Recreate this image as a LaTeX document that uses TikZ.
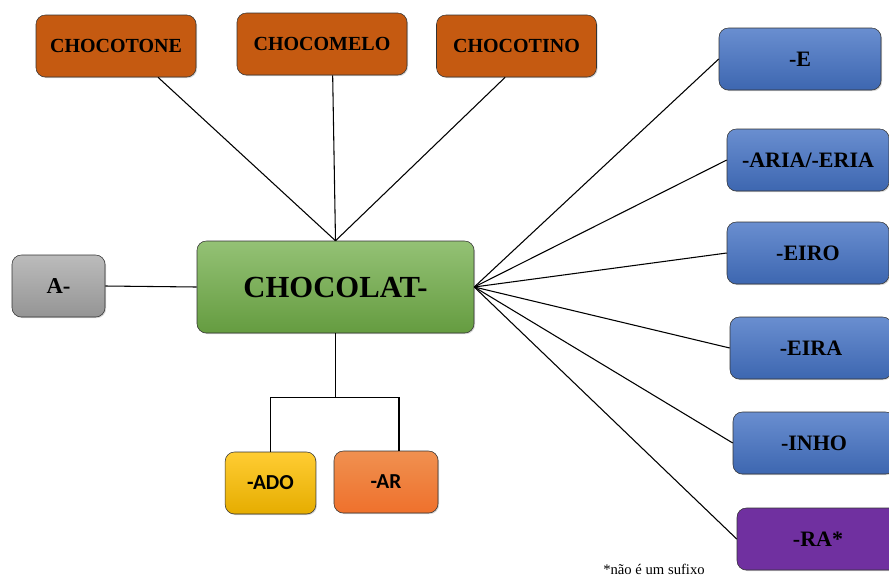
\documentclass[tikz,border=0pt]{standalone}
\usepackage{fontspec}
\setmainfont{Liberation Serif}
\newfontfamily\calib{Carlito}
\usepackage{tikz}
\usetikzlibrary{shadows}
\definecolor{brick}{HTML}{C55A11}
\definecolor{leaf}{HTML}{70AD47}
\definecolor{sky}{HTML}{4472C4}
\definecolor{stone}{HTML}{A5A5A5}
\definecolor{gold}{HTML}{FFC000}
\definecolor{tang}{HTML}{ED7D31}
\definecolor{plum}{HTML}{7030A0}
\tikzset{
  box/.style={draw=black!80, rounded corners=7pt, font=\bfseries, align=center,
    drop shadow={opacity=.35, shadow xshift=.8pt, shadow yshift=-.8pt}},
  topbox/.style={box, fill=brick, minimum width=120pt, minimum height=46.5pt, font=\bfseries\fontsize{15}{17}\selectfont},
  sufbox/.style={box, top color=sky!80!white, bottom color=sky!90!black, minimum width=121.5pt, minimum height=46.5pt, font=\bfseries\fontsize{16.5}{19}\selectfont},
  lowbox/.style={box, minimum width=68pt, minimum height=46.5pt, font=\calib\bfseries\fontsize{16}{19}\selectfont},
  link/.style={black, line width=0.8pt}
}
\begin{document}
\begin{tikzpicture}[x=0.75pt, y=-0.75pt]
\useasboundingbox (0,0) rectangle (889,576);
\node[box, top color=leaf!75!white, bottom color=leaf!90!black, minimum width=207.75pt, minimum height=69pt, font=\bfseries\fontsize{23}{27}\selectfont] (root) at (335.5,287) {CHOCOLAT-};
\node[topbox] (tone) at (116,46) {CHOCOTONE};
\node[topbox, minimum width=127.5pt] (melo) at (322,44) {CHOCOMELO};
\node[topbox] (tino) at (516.5,46) {CHOCOTINO};
\node[box, top color=stone!75!white, bottom color=stone!90!black, minimum width=69.75pt, minimum height=46.5pt, font=\bfseries\fontsize{17}{20}\selectfont] (pre) at (58.5,286) {A-};
\node[lowbox, top color=gold!80!white, bottom color=gold!90!black] (ado) at (270.5,483) {-ADO};
\node[lowbox, top color=tang!85!white, bottom color=tang!90!red, minimum width=78pt] (ar) at (386,482) {-AR};
\foreach \n/\x/\y/\t in {1/800/59/{-E}, 2/808/160/{-ARIA/-ERIA}, 3/808/253/{-EIRO}, 4/811/348/{-EIRA}, 5/814/443/{-INHO}}
  \node[sufbox] (s\n) at (\x,\y) {\t};
\node[sufbox, top color=plum, bottom color=plum] (s6) at (818,539) {-RA*};
\node[font=\fontsize{11}{13}\selectfont] (note) at (654,569) {*não é um sufixo};
% links
\draw[link] ([xshift=31.5pt]tone.south) -- (root.north);
\draw[link] ([xshift=8pt]melo.south) -- (root.north);
\draw[link] ([xshift=-8.5pt]tino.south) -- (root.north);
\draw[link] (pre.east) -- (root.west);
\foreach \n in {1,...,6} \draw[link] (root.east) -- (s\n.west);
\draw[link] (root.south) -- ++(0,65);
\draw[link] (ado.north) -- ++(0,-54) -| ([xshift=9.75pt]ar.north);
\end{tikzpicture}
\end{document}
